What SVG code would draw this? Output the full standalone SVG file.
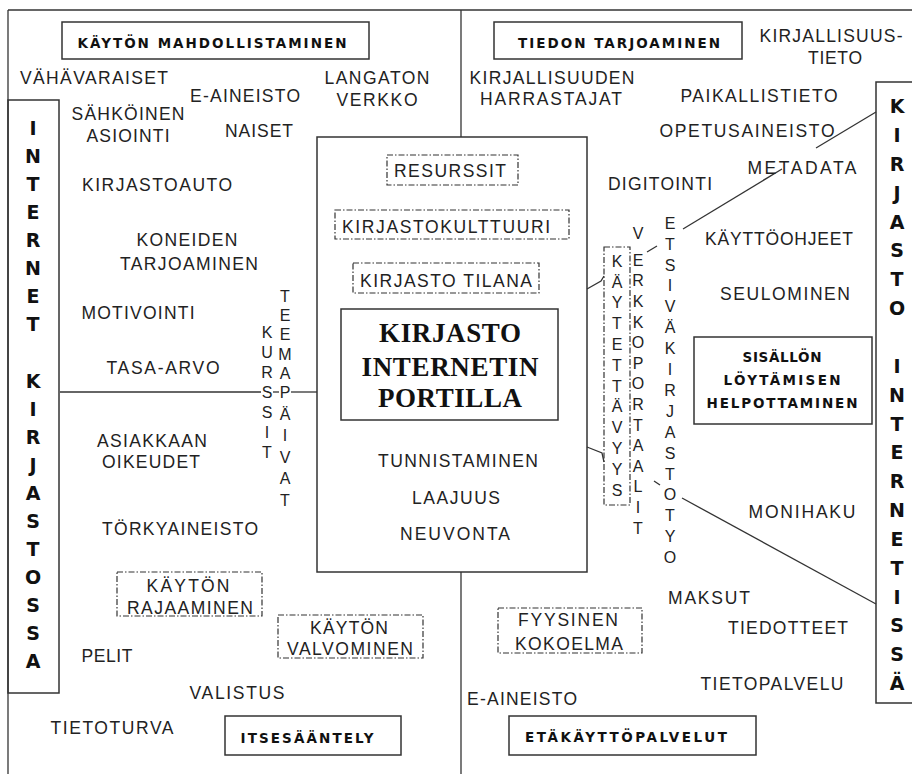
<svg xmlns="http://www.w3.org/2000/svg" width="912" height="774" viewBox="0 0 912 774">
<style>
.t{font-family:"Liberation Sans",Arial,sans-serif;font-size:17.5px;fill:#222;text-anchor:middle}
.c{font-family:"Liberation Sans",Arial,sans-serif;font-size:16px;fill:#222;text-anchor:middle}
.b{font-family:"DejaVu Sans",Verdana,sans-serif;font-weight:bold;font-size:13.5px;fill:#111;text-anchor:middle}
.v{font-family:"DejaVu Sans",Verdana,sans-serif;font-weight:bold;font-size:19px;fill:#111;text-anchor:middle}
.ttl{font-family:"Liberation Serif","Times New Roman",serif;font-weight:bold;font-size:27px;fill:#111;text-anchor:middle}
.box{fill:none;stroke:#333;stroke-width:1.5}
.dash{fill:none;stroke:#333;stroke-width:1.2;stroke-dasharray:6 2 1.5 2}
.ln{fill:none;stroke:#333;stroke-width:1.3}
</style>
<rect width="912" height="774" fill="#fff"/>
<g id="connectors">
<line class="ln" x1="8" y1="10" x2="912" y2="10"/>
<line class="ln" x1="8" y1="10" x2="8" y2="774"/>
<line class="ln" x1="461" y1="10" x2="461" y2="137"/>
<line class="ln" x1="461" y1="572" x2="461" y2="774"/>
<line class="ln" x1="60" y1="392" x2="261" y2="392"/>
<line class="ln" x1="273" y1="392" x2="279" y2="392"/>
<line class="ln" x1="291" y1="392" x2="317" y2="392"/>
<polyline class="ln" points="587,289 601,281 604,276"/>
<polyline class="ln" points="587,447 602,453 604,462"/>
<line class="ln" x1="647" y1="252" x2="657" y2="246"/>
<line class="ln" x1="654" y1="481" x2="660" y2="485"/>
<line class="ln" x1="683" y1="229" x2="782" y2="169"/>
<line class="ln" x1="816" y1="148" x2="876" y2="112"/>
<line class="ln" x1="682" y1="498" x2="876" y2="604"/>
</g>
<g id="internet-kirjastossa">
<rect class="box" x="8" y="100" width="51" height="593"/>
<text class="v"><tspan x="33" y="135">I</tspan><tspan x="33" y="163">N</tspan><tspan x="33" y="191">T</tspan><tspan x="33" y="219">E</tspan><tspan x="33" y="247">R</tspan><tspan x="33" y="275">N</tspan><tspan x="33" y="303">E</tspan><tspan x="33" y="331">T</tspan><tspan x="33" y="387.5">K</tspan><tspan x="33" y="415.5">I</tspan><tspan x="33" y="443.5">R</tspan><tspan x="33" y="471.5">J</tspan><tspan x="33" y="499.5">A</tspan><tspan x="33" y="527.5">S</tspan><tspan x="33" y="555.5">T</tspan><tspan x="33" y="583.5">O</tspan><tspan x="33" y="611.5">S</tspan><tspan x="33" y="639.5">S</tspan><tspan x="33" y="668">A</tspan></text>
</g>
<g id="kirjasto-internetissa">
<rect class="box" x="876" y="82" width="44" height="621"/>
<text class="v"><tspan x="897" y="113">K</tspan><tspan x="897" y="142">I</tspan><tspan x="897" y="170.7">R</tspan><tspan x="897" y="199.5">J</tspan><tspan x="897" y="228.5">A</tspan><tspan x="897" y="257.3">S</tspan><tspan x="897" y="286">T</tspan><tspan x="897" y="315">O</tspan><tspan x="897" y="372.5">I</tspan><tspan x="897" y="401.5">N</tspan><tspan x="897" y="430.5">T</tspan><tspan x="897" y="459.2">E</tspan><tspan x="897" y="488">R</tspan><tspan x="897" y="517">N</tspan><tspan x="897" y="545.7">E</tspan><tspan x="897" y="574.5">T</tspan><tspan x="897" y="603.5">I</tspan><tspan x="897" y="632.3">S</tspan><tspan x="897" y="661">S</tspan><tspan x="897" y="690">Ä</tspan></text>
</g>
<g id="kayton-mahdollistaminen">
<rect class="box" x="62" y="22" width="307" height="37"/>
<text class="b" x="212" y="47.5" textLength="269" lengthAdjust="spacing">KÄYTÖN MAHDOLLISTAMINEN</text>
</g>
<g id="tiedon-tarjoaminen">
<rect class="box" x="494" y="22" width="248" height="37"/>
<text class="b" x="619" y="47.5" textLength="202" lengthAdjust="spacing">TIEDON TARJOAMINEN</text>
</g>
<g id="sisallon-loytamisen">
<rect class="box" x="694" y="337" width="178" height="87"/>
<text class="b" x="782" y="362" textLength="79" lengthAdjust="spacing">SISÄLLÖN</text>
<text class="b" x="782" y="385" textLength="117" lengthAdjust="spacing">LÖYTÄMISEN</text>
<text class="b" x="782" y="408" textLength="151" lengthAdjust="spacing">HELPOTTAMINEN</text>
</g>
<g id="itsesaantely">
<rect class="box" x="225" y="716" width="176" height="39"/>
<text class="b" x="307" y="743" textLength="133" lengthAdjust="spacing">ITSESÄÄNTELY</text>
</g>
<g id="etakayttopalvelut">
<rect class="box" x="509" y="716" width="247" height="39"/>
<text class="b" x="626" y="742" textLength="202" lengthAdjust="spacing">ETÄKÄYTTÖPALVELUT</text>
</g>
<g id="portti">
<rect class="box" x="317" y="137" width="270" height="435"/>
<rect class="dash" x="387" y="155" width="131" height="30"/>
<text class="t" x="450" y="176.5" textLength="112" lengthAdjust="spacing">RESURSSIT</text>
<rect class="dash" x="335" y="210" width="234" height="29"/>
<text class="t" x="446" y="232.5" textLength="208" lengthAdjust="spacing">KIRJASTOKULTTUURI</text>
<rect class="dash" x="353" y="263" width="186" height="30"/>
<text class="t" x="446" y="286.5" textLength="172" lengthAdjust="spacing">KIRJASTO TILANA</text>
<rect class="box" x="341" y="309" width="217" height="111"/>
<text class="ttl" x="450" y="342" textLength="142" lengthAdjust="spacing">KIRJASTO</text>
<text class="ttl" x="450" y="376" textLength="177" lengthAdjust="spacing">INTERNETIN</text>
<text class="ttl" x="450" y="407" textLength="144" lengthAdjust="spacing">PORTILLA</text>
<text class="t" x="458" y="466.5" textLength="160" lengthAdjust="spacing">TUNNISTAMINEN</text>
<text class="t" x="456" y="503.5" textLength="88" lengthAdjust="spacing">LAAJUUS</text>
<text class="t" x="455" y="539.5" textLength="110" lengthAdjust="spacing">NEUVONTA</text>
</g>
<g id="left-labels">
<text class="t" x="94" y="83.5" textLength="148" lengthAdjust="spacing">VÄHÄVARAISET</text>
<text class="t" x="245" y="101.5" textLength="110" lengthAdjust="spacing">E-AINEISTO</text>
<text class="t" x="377" y="83.5" textLength="105" lengthAdjust="spacing">LANGATON</text>
<text class="t" x="377" y="105.5" textLength="81" lengthAdjust="spacing">VERKKO</text>
<text class="t" x="128" y="119.5" textLength="113" lengthAdjust="spacing">SÄHKÖINEN</text>
<text class="t" x="128" y="141.5" textLength="83" lengthAdjust="spacing">ASIOINTI</text>
<text class="t" x="259" y="136.5" textLength="68" lengthAdjust="spacing">NAISET</text>
<text class="t" x="157" y="190.5" textLength="150" lengthAdjust="spacing">KIRJASTOAUTO</text>
<text class="t" x="187" y="245.5" textLength="101" lengthAdjust="spacing">KONEIDEN</text>
<text class="t" x="189" y="269.5" textLength="138" lengthAdjust="spacing">TARJOAMINEN</text>
<text class="t" x="138" y="318.5" textLength="113" lengthAdjust="spacing">MOTIVOINTI</text>
<text class="t" x="163" y="373.5" textLength="113" lengthAdjust="spacing">TASA-ARVO</text>
<text class="t" x="152" y="446.5" textLength="110" lengthAdjust="spacing">ASIAKKAAN</text>
<text class="t" x="151" y="467.5" textLength="98" lengthAdjust="spacing">OIKEUDET</text>
<text class="t" x="180" y="534.5" textLength="156" lengthAdjust="spacing">TÖRKYAINEISTO</text>
<text class="t" x="107" y="661.5" textLength="51" lengthAdjust="spacing">PELIT</text>
<text class="t" x="237" y="698.5" textLength="95" lengthAdjust="spacing">VALISTUS</text>
<text class="t" x="112" y="733.5" textLength="123" lengthAdjust="spacing">TIETOTURVA</text>
</g>
<g id="kayton-rajaaminen">
<rect class="dash" x="117" y="572" width="145" height="44"/>
<text class="t" x="188" y="591.5" textLength="83" lengthAdjust="spacing">KÄYTÖN</text>
<text class="t" x="190" y="613.5" textLength="126" lengthAdjust="spacing">RAJAAMINEN</text>
</g>
<g id="kayton-valvominen">
<rect class="dash" x="278" y="615" width="145" height="43"/>
<text class="t" x="349" y="633.5" textLength="78" lengthAdjust="spacing">KÄYTÖN</text>
<text class="t" x="350" y="654.5" textLength="126" lengthAdjust="spacing">VALVOMINEN</text>
</g>
<g id="kurssit">
<text class="c"><tspan x="267" y="337.7">K</tspan><tspan x="267" y="357.7">U</tspan><tspan x="267" y="377.7">R</tspan><tspan x="267" y="397.7">S</tspan><tspan x="267" y="417.7">S</tspan><tspan x="267" y="437.7">I</tspan><tspan x="267" y="457.7">T</tspan></text>
</g>
<g id="teemapaivat">
<text class="c"><tspan x="285" y="301.7">T</tspan><tspan x="285" y="320.7">E</tspan><tspan x="285" y="339.7">E</tspan><tspan x="285" y="359.7">M</tspan><tspan x="285" y="378.7">A</tspan><tspan x="285" y="397.7">P</tspan><tspan x="285" y="419.7">Ä</tspan><tspan x="285" y="440.7">I</tspan><tspan x="285" y="462.7">V</tspan><tspan x="285" y="483.7">A</tspan><tspan x="285" y="505.7">T</tspan></text>
</g>
<g id="kaytettavyys">
<rect class="dash" x="604" y="247" width="26" height="258"/>
<text class="c"><tspan x="617" y="266.7">K</tspan><tspan x="617" y="287.5">Ä</tspan><tspan x="617" y="308.3">Y</tspan><tspan x="617" y="329.1">T</tspan><tspan x="617" y="349.9">E</tspan><tspan x="617" y="370.7">T</tspan><tspan x="617" y="391.5">T</tspan><tspan x="617" y="412.3">Ä</tspan><tspan x="617" y="433.1">V</tspan><tspan x="617" y="453.9">Y</tspan><tspan x="617" y="474.7">Y</tspan><tspan x="617" y="495.5">S</tspan></text>
</g>
<g id="verkkoportaalit">
<text class="c"><tspan x="638" y="238.7">V</tspan><tspan x="638" y="265.7">E</tspan><tspan x="638" y="286.3">R</tspan><tspan x="638" y="306.9">K</tspan><tspan x="638" y="327.5">K</tspan><tspan x="638" y="348.1">O</tspan><tspan x="638" y="368.7">P</tspan><tspan x="638" y="389.3">O</tspan><tspan x="638" y="409.9">R</tspan><tspan x="638" y="430.5">T</tspan><tspan x="638" y="451.1">A</tspan><tspan x="638" y="471.7">A</tspan><tspan x="638" y="492.3">L</tspan><tspan x="638" y="512.9">I</tspan><tspan x="638" y="533.5">T</tspan></text>
</g>
<g id="etsivakirjastotyo">
<text class="c"><tspan x="670" y="228.7">E</tspan><tspan x="670" y="249.6">T</tspan><tspan x="670" y="270.5">S</tspan><tspan x="670" y="291.4">I</tspan><tspan x="670" y="312.3">V</tspan><tspan x="670" y="333.2">Ä</tspan><tspan x="670" y="354.1">K</tspan><tspan x="670" y="375">I</tspan><tspan x="670" y="395.9">R</tspan><tspan x="670" y="416.8">J</tspan><tspan x="670" y="437.7">A</tspan><tspan x="670" y="458.6">S</tspan><tspan x="670" y="479.5">T</tspan><tspan x="670" y="500.4">O</tspan><tspan x="670" y="521.3">T</tspan><tspan x="670" y="542.2">Y</tspan><tspan x="670" y="563.1">O</tspan></text>
</g>
<g id="right-labels">
<text class="t" x="552" y="83.5" textLength="165" lengthAdjust="spacing">KIRJALLISUUDEN</text>
<text class="t" x="551" y="104.5" textLength="142" lengthAdjust="spacing">HARRASTAJAT</text>
<text class="t" x="831" y="41.5" textLength="143" lengthAdjust="spacing">KIRJALLISUUS-</text>
<text class="t" x="835" y="63.5" textLength="54" lengthAdjust="spacing">TIETO</text>
<text class="t" x="759" y="101.5" textLength="157" lengthAdjust="spacing">PAIKALLISTIETO</text>
<text class="t" x="747" y="136.5" textLength="175" lengthAdjust="spacing">OPETUSAINEISTO</text>
<text class="t" x="802" y="173.5" textLength="109" lengthAdjust="spacing">METADATA</text>
<text class="t" x="660" y="189.5" textLength="104" lengthAdjust="spacing">DIGITOINTI</text>
<text class="t" x="779" y="244.5" textLength="148" lengthAdjust="spacing">KÄYTTÖOHJEET</text>
<text class="t" x="785" y="299.5" textLength="130" lengthAdjust="spacing">SEULOMINEN</text>
<text class="t" x="802" y="517.5" textLength="107" lengthAdjust="spacing">MONIHAKU</text>
<text class="t" x="709" y="603.5" textLength="82" lengthAdjust="spacing">MAKSUT</text>
<text class="t" x="788" y="633.5" textLength="120" lengthAdjust="spacing">TIEDOTTEET</text>
<text class="t" x="772" y="689.5" textLength="143" lengthAdjust="spacing">TIETOPALVELU</text>
<text class="t" x="522" y="704.5" textLength="110" lengthAdjust="spacing">E-AINEISTO</text>
</g>
<g id="fyysinen-kokoelma">
<rect class="dash" x="498" y="608" width="144" height="45"/>
<text class="t" x="568" y="625.5" textLength="100" lengthAdjust="spacing">FYYSINEN</text>
<text class="t" x="569" y="649.5" textLength="108" lengthAdjust="spacing">KOKOELMA</text>
</g>
</svg>
